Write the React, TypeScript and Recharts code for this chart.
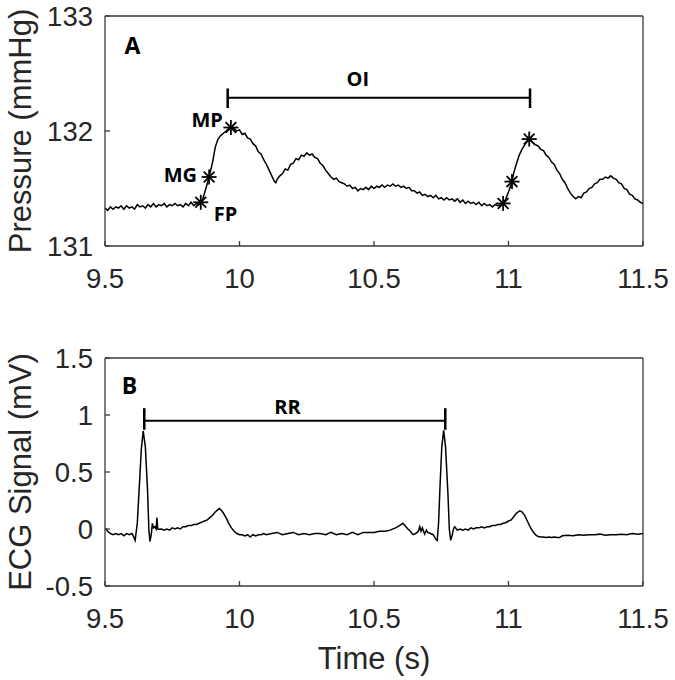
import React from "react";
import {
  ComposedChart,
  Line,
  Scatter,
  XAxis,
  YAxis,
  ReferenceLine,
  ReferenceDot,
} from "recharts";

// axis ticks
const timeTicks = [9.5, 10, 10.5, 11, 11.5];
const pressureTicks = [131, 132, 133];
const ecgTicks = [-0.5, 0, 0.5, 1, 1.5];

// panel A: arterial pressure trace, [time s, mmHg]
const pressureTrace: [number, number][] = [
  [9.5, 131.33], [9.51, 131.31], [9.52, 131.34], [9.53, 131.32], [9.54, 131.34],
  [9.55, 131.33], [9.56, 131.35], [9.57, 131.32], [9.58, 131.35], [9.59, 131.33],
  [9.6, 131.34], [9.61, 131.32], [9.62, 131.36], [9.63, 131.34], [9.64, 131.35],
  [9.65, 131.33], [9.66, 131.36], [9.67, 131.34], [9.68, 131.37], [9.69, 131.34],
  [9.7, 131.36], [9.71, 131.35], [9.72, 131.37], [9.73, 131.34], [9.74, 131.36],
  [9.75, 131.35], [9.76, 131.37], [9.77, 131.35], [9.78, 131.36], [9.79, 131.34],
  [9.8, 131.37], [9.81, 131.35], [9.82, 131.38], [9.83, 131.35], [9.84, 131.37],
  [9.85, 131.36], [9.856, 131.38], [9.865, 131.42], [9.875, 131.5], [9.887, 131.6],
  [9.9, 131.73], [9.91, 131.86], [9.92, 131.93], [9.93, 131.96], [9.94, 131.98],
  [9.95, 132.0], [9.96, 132.02], [9.968, 132.03], [9.98, 132.02], [9.99, 132.0],
  [10.0, 132.01], [10.01, 131.97], [10.02, 131.98], [10.03, 131.94], [10.04, 131.93],
  [10.05, 131.89], [10.06, 131.87], [10.07, 131.82], [10.08, 131.8], [10.09, 131.75],
  [10.1, 131.71], [10.11, 131.66], [10.12, 131.61], [10.13, 131.56], [10.135, 131.55],
  [10.14, 131.58], [10.15, 131.61], [10.16, 131.63], [10.17, 131.67], [10.18, 131.66],
  [10.19, 131.71], [10.2, 131.72], [10.21, 131.76], [10.22, 131.75], [10.23, 131.79],
  [10.24, 131.78], [10.25, 131.81], [10.26, 131.79], [10.27, 131.8], [10.28, 131.77],
  [10.29, 131.76], [10.3, 131.72], [10.31, 131.7], [10.32, 131.66], [10.33, 131.63],
  [10.34, 131.6], [10.35, 131.58], [10.36, 131.59], [10.37, 131.56], [10.38, 131.55],
  [10.39, 131.54], [10.4, 131.52], [10.41, 131.53], [10.42, 131.5], [10.43, 131.51],
  [10.44, 131.48], [10.45, 131.5], [10.46, 131.49], [10.47, 131.51], [10.48, 131.49],
  [10.49, 131.52], [10.5, 131.5], [10.51, 131.52], [10.52, 131.51], [10.53, 131.53],
  [10.54, 131.51], [10.55, 131.53], [10.56, 131.52], [10.57, 131.54], [10.58, 131.52],
  [10.59, 131.53], [10.6, 131.51], [10.61, 131.52], [10.62, 131.5], [10.63, 131.51],
  [10.64, 131.48], [10.65, 131.48], [10.66, 131.46], [10.67, 131.47], [10.68, 131.44],
  [10.69, 131.45], [10.7, 131.43], [10.71, 131.44], [10.72, 131.42], [10.73, 131.44],
  [10.74, 131.41], [10.75, 131.42], [10.76, 131.4], [10.77, 131.42], [10.78, 131.4],
  [10.79, 131.41], [10.8, 131.39], [10.81, 131.41], [10.82, 131.38], [10.83, 131.4],
  [10.84, 131.37], [10.85, 131.39], [10.86, 131.37], [10.87, 131.38], [10.88, 131.36],
  [10.89, 131.38], [10.9, 131.35], [10.91, 131.37], [10.92, 131.35], [10.93, 131.36],
  [10.94, 131.34], [10.95, 131.36], [10.96, 131.35], [10.97, 131.36], [10.98, 131.37],
  [10.99, 131.41], [11.0, 131.47], [11.013, 131.56], [11.02, 131.64], [11.03, 131.72],
  [11.04, 131.79], [11.05, 131.84], [11.06, 131.88], [11.077, 131.93], [11.09, 131.9],
  [11.1, 131.88], [11.11, 131.87], [11.12, 131.84], [11.13, 131.83], [11.14, 131.79],
  [11.15, 131.77], [11.16, 131.73], [11.17, 131.71], [11.18, 131.66], [11.19, 131.63],
  [11.2, 131.58], [11.21, 131.55], [11.22, 131.5], [11.23, 131.46], [11.24, 131.43],
  [11.25, 131.41], [11.26, 131.43], [11.27, 131.42], [11.28, 131.46], [11.29, 131.47],
  [11.3, 131.5], [11.31, 131.51], [11.32, 131.54], [11.33, 131.55], [11.34, 131.58],
  [11.35, 131.58], [11.36, 131.6], [11.37, 131.59], [11.38, 131.61], [11.39, 131.59],
  [11.4, 131.58], [11.41, 131.55], [11.42, 131.54], [11.43, 131.5], [11.44, 131.49],
  [11.45, 131.45], [11.46, 131.44], [11.47, 131.41], [11.48, 131.4], [11.49, 131.38],
  [11.5, 131.37],
];

// FP, MG, MP for both beats
const pressureMarkers: [number, number][] = [
  [9.856, 131.38], [9.887, 131.6], [9.968, 132.03],
  [10.98, 131.37], [11.013, 131.56], [11.077, 131.93],
];

const markerLabels = ["MP", "MG", "FP"];
const markerLabelTimes = [9.88, 9.78, 9.948];
const markerLabelValues = [132.1, 131.62, 131.28];

// OI bracket: start, end, level, tick top, tick bottom
const oiBracket = [9.956, 11.08, 132.29, 132.37, 132.2];
const oiLabelAt: [number, number] = [10.44, 132.45];
const panelALabelAt: [number, number] = [9.602, 132.74];

// panel B: ECG trace, [time s, mV]
const ecgTrace: [number, number][] = [
  [9.5, 0.01], [9.51, -0.02], [9.52, -0.04], [9.53, -0.05], [9.54, -0.04],
  [9.55, -0.05], [9.56, -0.04], [9.57, -0.06], [9.58, -0.04], [9.59, -0.05],
  [9.6, -0.04], [9.605, -0.06], [9.612, -0.1], [9.62, 0.05], [9.627, 0.35],
  [9.635, 0.7], [9.642, 0.86], [9.65, 0.72], [9.658, 0.35], [9.663, 0.0],
  [9.667, -0.11], [9.672, -0.05], [9.676, 0.05], [9.68, 0.01], [9.685, 0.02],
  [9.69, 0.0], [9.693, 0.1], [9.696, 0.0], [9.7, -0.003], [9.71, 0.0],
  [9.72, -0.01], [9.73, 0.0], [9.74, -0.01], [9.75, 0.01], [9.76, 0.0],
  [9.77, 0.01], [9.78, 0.0], [9.79, 0.02], [9.8, 0.02], [9.81, 0.03],
  [9.82, 0.03], [9.83, 0.04], [9.84, 0.04], [9.85, 0.05], [9.86, 0.06],
  [9.87, 0.07], [9.88, 0.08], [9.89, 0.1], [9.9, 0.12], [9.91, 0.15],
  [9.92, 0.17], [9.925, 0.18], [9.93, 0.17], [9.94, 0.14], [9.95, 0.1],
  [9.96, 0.05], [9.97, 0.01], [9.98, -0.02], [9.99, -0.04], [10.0, -0.05],
  [10.01, -0.05], [10.02, -0.06], [10.03, -0.05], [10.04, -0.07], [10.05, -0.05],
  [10.06, -0.06], [10.07, -0.05], [10.08, -0.05], [10.09, -0.04], [10.1, -0.05],
  [10.12, -0.04], [10.14, -0.03], [10.16, -0.05], [10.18, -0.04], [10.2, -0.03],
  [10.22, -0.05], [10.24, -0.04], [10.26, -0.05], [10.28, -0.04], [10.3, -0.04],
  [10.32, -0.05], [10.34, -0.03], [10.36, -0.05], [10.38, -0.04], [10.4, -0.05],
  [10.42, -0.03], [10.44, -0.05], [10.46, -0.03], [10.48, -0.03], [10.5, -0.03],
  [10.52, -0.02], [10.54, -0.02], [10.56, -0.01], [10.58, 0.01], [10.595, 0.03],
  [10.607, 0.05], [10.615, 0.03], [10.626, 0.0], [10.635, -0.02], [10.645, -0.05],
  [10.655, -0.04], [10.665, -0.02], [10.67, 0.02], [10.675, -0.02], [10.68, 0.01],
  [10.688, -0.045], [10.695, -0.01], [10.7, -0.03], [10.71, -0.04], [10.72, -0.05],
  [10.73, -0.09], [10.735, -0.1], [10.74, 0.05], [10.745, 0.35], [10.752, 0.72],
  [10.759, 0.865], [10.766, 0.72], [10.775, 0.3], [10.78, 0.0], [10.785, -0.1],
  [10.79, -0.06], [10.796, 0.005], [10.8, 0.02], [10.81, -0.01], [10.82, 0.0],
  [10.83, -0.01], [10.84, 0.0], [10.85, -0.01], [10.86, 0.01], [10.87, 0.0],
  [10.88, 0.01], [10.89, 0.01], [10.9, 0.02], [10.91, 0.01], [10.92, 0.02],
  [10.93, 0.02], [10.94, 0.03], [10.95, 0.03], [10.96, 0.04], [10.97, 0.04],
  [10.98, 0.05], [10.99, 0.055], [11.0, 0.07], [11.01, 0.08], [11.02, 0.11],
  [11.03, 0.14], [11.042, 0.16], [11.05, 0.15], [11.06, 0.12], [11.07, 0.07],
  [11.08, 0.02], [11.09, -0.02], [11.1, -0.05], [11.11, -0.066], [11.12, -0.07],
  [11.13, -0.07], [11.14, -0.075], [11.15, -0.07], [11.16, -0.075], [11.17, -0.07],
  [11.18, -0.075], [11.19, -0.075], [11.2, -0.06], [11.22, -0.055], [11.24, -0.06],
  [11.26, -0.05], [11.28, -0.055], [11.3, -0.05], [11.32, -0.05], [11.34, -0.045],
  [11.36, -0.055], [11.38, -0.05], [11.4, -0.05], [11.42, -0.045], [11.44, -0.05],
  [11.46, -0.04], [11.48, -0.045], [11.5, -0.04],
];

// RR bracket: start, end, level, tick top, tick bottom
const rrBracket = [9.646, 10.765, 0.95, 1.06, 0.87];
const rrLabelAt: [number, number] = [10.178, 1.073];
const panelBLabelAt: [number, number] = [9.591, 1.254];

const AXIS_COLOR = "#3a3a3a";
const TEXT_COLOR = "#262626";
const SANS = "'Liberation Sans', Arial, sans-serif";
const BOLD = "'Open Sans', Lato, sans-serif";

const tickStyle = { fontSize: 27.5, fontFamily: SANS, fill: TEXT_COLOR };

function AxisTitle(props: any) {
  const { viewBox, value, vertical } = props;
  if (!viewBox) return null;
  const { x, y, width, height } = viewBox;
  if (vertical) {
    const cx = x + 20;
    const cy = y + height / 2;
    return (
      <text
        x={cx}
        y={cy}
        transform={`rotate(-90 ${cx} ${cy})`}
        textAnchor="middle"
        dominantBaseline="central"
        fontSize={31}
        fontFamily={SANS}
        fill={TEXT_COLOR}
      >
        {value}
      </text>
    );
  }
  return (
    <text
      x={x + width / 2}
      y={y + 72}
      textAnchor="middle"
      dominantBaseline="central"
      fontSize={31}
      fontFamily={SANS}
      fill={TEXT_COLOR}
    >
      {value}
    </text>
  );
}

// matlab-ish '*' marker
function Asterisk(props: any) {
  const { cx, cy } = props;
  if (cx == null || cy == null) return null;
  const r = 7.5;
  const d = r * 0.72;
  return (
    <g stroke="#000" strokeWidth={1.8}>
      <line x1={cx - r} y1={cy} x2={cx + r} y2={cy} />
      <line x1={cx} y1={cy - r} x2={cx} y2={cy + r} />
      <line x1={cx - d} y1={cy - d} x2={cx + d} y2={cy + d} />
      <line x1={cx - d} y1={cy + d} x2={cx + d} y2={cy - d} />
    </g>
  );
}

function boldLabel(value: string, size: number) {
  return {
    value,
    position: "center" as const,
    fontSize: size,
    fontWeight: 700,
    fontFamily: BOLD,
    fill: "#000",
  };
}

// box with inward ticks on all four sides
function frameAxes(domainY: number[], ticksY: number[]) {
  return [
    <XAxis
      key="top"
      xAxisId="top"
      orientation="top"
      type="number"
      domain={[9.5, 11.5]}
      ticks={timeTicks}
      interval={0}
      height={1}
      tickSize={-5}
      tickFormatter={() => ""}
      stroke={AXIS_COLOR}
      strokeWidth={1.3}
    />,
    <YAxis
      key="right"
      yAxisId="right"
      orientation="right"
      type="number"
      domain={domainY}
      ticks={ticksY}
      interval={0}
      width={1}
      tickSize={-5}
      tickFormatter={() => ""}
      stroke={AXIS_COLOR}
      strokeWidth={1.3}
    />,
  ];
}

function bracket(b: number[]) {
  const [start, end, level, top, bottom] = b;
  return [
    <ReferenceLine key="bar" segment={[{ x: start, y: level }, { x: end, y: level }]} stroke="#000" strokeWidth={2} />,
    <ReferenceLine key="l" segment={[{ x: start, y: top }, { x: start, y: bottom }]} stroke="#000" strokeWidth={2.5} />,
    <ReferenceLine key="r" segment={[{ x: end, y: top }, { x: end, y: bottom }]} stroke="#000" strokeWidth={2.5} />,
  ];
}

export default function App() {
  const pressureData = pressureTrace.map(([t, p]) => ({ t, p }));
  const markerData = pressureMarkers.map(([t, p]) => ({ t, p }));
  const ecgData = ecgTrace.map(([t, v]) => ({ t, v }));

  return (
    <div
      style={{
        position: "absolute",
        left: 0,
        top: 0,
        width: 675,
        height: 680,
        background: "#fff",
        fontFamily: SANS,
      }}
    >
      <div style={{ position: "absolute", left: 0, top: 0 }}>
        <ComposedChart width={675} height={300} margin={{ top: 15, right: 31, bottom: 0, left: 0 }}>
          <XAxis
            dataKey="t"
            type="number"
            domain={[9.5, 11.5]}
            ticks={timeTicks}
            interval={0}
            allowDataOverflow
            height={54}
            tickSize={-5}
            tickMargin={27}
            tick={tickStyle}
            stroke={AXIS_COLOR}
            strokeWidth={1.3}
          />
          <YAxis
            type="number"
            domain={[131, 133]}
            ticks={pressureTicks}
            interval={0}
            allowDataOverflow
            width={105}
            tickSize={-5}
            tickMargin={17}
            tick={tickStyle}
            stroke={AXIS_COLOR}
            strokeWidth={1.3}
            label={<AxisTitle value="Pressure (mmHg)" vertical />}
          />
          {frameAxes([131, 133], pressureTicks)}
          <Line
            data={pressureData}
            dataKey="p"
            type="linear"
            stroke="#000"
            strokeWidth={1.5}
            dot={false}
            isAnimationActive={false}
          />
          <Scatter data={markerData} dataKey="p" shape={<Asterisk />} isAnimationActive={false} />
          {bracket(oiBracket)}
          {markerLabels.map((name, i) => (
            <ReferenceDot
              key={name}
              x={markerLabelTimes[i]}
              y={markerLabelValues[i]}
              r={0}
              fill="none"
              stroke="none"
              label={boldLabel(name, 20)}
            />
          ))}
          <ReferenceDot x={oiLabelAt[0]} y={oiLabelAt[1]} r={0} fill="none" stroke="none" label={boldLabel("OI", 20)} />
          <ReferenceDot x={panelALabelAt[0]} y={panelALabelAt[1]} r={0} fill="none" stroke="none" label={boldLabel("A", 23)} />
        </ComposedChart>
      </div>

      <div style={{ position: "absolute", left: 0, top: 300 }}>
        <ComposedChart width={675} height={380} margin={{ top: 57, right: 31, bottom: 0, left: 0 }}>
          <XAxis
            dataKey="t"
            type="number"
            domain={[9.5, 11.5]}
            ticks={timeTicks}
            interval={0}
            allowDataOverflow
            height={94}
            tickSize={-5}
            tickMargin={27}
            tick={tickStyle}
            stroke={AXIS_COLOR}
            strokeWidth={1.3}
            label={<AxisTitle value="Time (s)" />}
          />
          <YAxis
            type="number"
            domain={[-0.5, 1.5]}
            ticks={ecgTicks}
            interval={0}
            allowDataOverflow
            width={105}
            tickSize={-5}
            tickMargin={17}
            tick={tickStyle}
            tickFormatter={(v: number) => String(v)}
            stroke={AXIS_COLOR}
            strokeWidth={1.3}
            label={<AxisTitle value="ECG Signal (mV)" vertical />}
          />
          {frameAxes([-0.5, 1.5], ecgTicks)}
          <Line
            data={ecgData}
            dataKey="v"
            type="linear"
            stroke="#000"
            strokeWidth={1.5}
            dot={false}
            isAnimationActive={false}
          />
          {bracket(rrBracket)}
          <ReferenceDot x={rrLabelAt[0]} y={rrLabelAt[1]} r={0} fill="none" stroke="none" label={boldLabel("RR", 20)} />
          <ReferenceDot x={panelBLabelAt[0]} y={panelBLabelAt[1]} r={0} fill="none" stroke="none" label={boldLabel("B", 23)} />
        </ComposedChart>
      </div>
    </div>
  );
}
